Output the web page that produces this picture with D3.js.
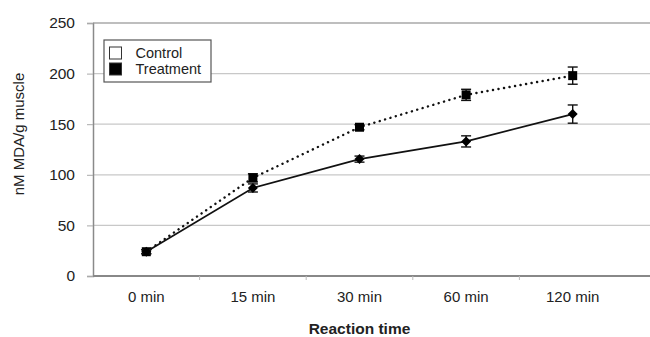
<!DOCTYPE html>
<html>
<head>
<meta charset="utf-8">
<script src="https://cdn.jsdelivr.net/npm/d3@7"></script>
<style>
  body { margin: 0; background: #fff; }
  svg { display: block; font-family: "Liberation Sans", Arial, sans-serif; }
</style>
</head>
<body>
<svg id="chart" width="650" height="337"></svg>
<script>
const categories = ['0 min', '15 min', '30 min', '60 min', '120 min'];
const controlValues = [24, 87, 115.5, 133, 160];
const controlErrors = [2, 4, 3, 5.5, 9];
const treatmentValues = [24, 97, 147, 179, 198];
const treatmentErrors = [2, 4, 2.5, 5.5, 8.5];
const yTicks = [0, 50, 100, 150, 200, 250];

const svg = d3.select('#chart');
const plot = { left: 93, top: 23, right: 650, bottom: 276 };
const font = '"Liberation Sans", Arial, sans-serif';

const x = d3.scaleBand()
    .domain(categories)
    .range([plot.left, 626]);

const y = d3.scaleLinear()
    .domain([0, 250])
    .range([plot.bottom, plot.top]);

// grid lines
svg.append('g')
    .selectAll('line')
    .data(yTicks.filter(d => d > 0))
    .join('line')
    .attr('x1', plot.left)
    .attr('x2', plot.right)
    .attr('y1', d => y(d))
    .attr('y2', d => y(d))
    .attr('stroke', '#c8c8c8')
    .attr('stroke-width', 1.2);

// y axis
const yAxis = svg.append('g')
    .attr('transform', `translate(${plot.left},0)`)
    .call(d3.axisLeft(y).tickValues(yTicks).tickSize(6).tickPadding(12));
yAxis.select('.domain').attr('stroke', '#8a8a8a').attr('stroke-width', 1.5);
yAxis.selectAll('.tick line').attr('stroke', '#aaa');
yAxis.selectAll('.tick text')
    .attr('font-size', 15.5)
    .attr('fill', '#222')
    .attr('font-family', font);

// x axis
const xAxis = svg.append('g')
    .attr('transform', `translate(0,${plot.bottom})`)
    .call(d3.axisBottom(x).tickSize(0).tickPadding(15));
xAxis.select('.domain').remove();
xAxis.selectAll('.tick text')
    .attr('font-size', 15)
    .attr('fill', '#222')
    .attr('font-family', font);

svg.append('line')
    .attr('x1', plot.left).attr('x2', plot.right)
    .attr('y1', plot.bottom).attr('y2', plot.bottom)
    .attr('stroke', '#888').attr('stroke-width', 2);

svg.append('g')
    .selectAll('line')
    .data(categories.slice(1))
    .join('line')
    .attr('x1', d => x(d)).attr('x2', d => x(d))
    .attr('y1', plot.bottom).attr('y2', plot.bottom + 4)
    .attr('stroke', '#bbb');

// axis titles
svg.append('text')
    .attr('transform', 'translate(24,134) rotate(-90)')
    .attr('text-anchor', 'middle')
    .attr('font-size', 15)
    .attr('fill', '#222')
    .text('nM MDA/g muscle');

svg.append('text')
    .attr('x', x('30 min') + x.bandwidth() / 2)
    .attr('y', 334)
    .attr('text-anchor', 'middle')
    .attr('font-size', 15.5)
    .attr('font-weight', 'bold')
    .attr('fill', '#222')
    .text('Reaction time');

const cx = d => x(d) + x.bandwidth() / 2;

function drawSeries(values, errors, dash, diamond, size) {
    const data = categories.map((c, i) => ({ c, v: values[i], e: errors[i] }));
    const line = d3.line().x(d => cx(d.c)).y(d => y(d.v));
    svg.append('path')
        .datum(data)
        .attr('d', line)
        .attr('fill', 'none')
        .attr('stroke', '#111')
        .attr('stroke-width', dash ? 2.4 : 1.7)
        .attr('stroke-dasharray', dash)
        .attr('stroke-linecap', dash ? 'round' : 'butt');

    const eb = svg.append('g').selectAll('g').data(data).join('g')
        .attr('stroke', '#111').attr('stroke-width', 1.4);
    eb.append('line')
        .attr('x1', d => cx(d.c)).attr('x2', d => cx(d.c))
        .attr('y1', d => y(d.v - d.e)).attr('y2', d => y(d.v + d.e));
    eb.append('line')
        .attr('x1', d => cx(d.c) - 5).attr('x2', d => cx(d.c) + 5)
        .attr('y1', d => y(d.v - d.e)).attr('y2', d => y(d.v - d.e));
    eb.append('line')
        .attr('x1', d => cx(d.c) - 5).attr('x2', d => cx(d.c) + 5)
        .attr('y1', d => y(d.v + d.e)).attr('y2', d => y(d.v + d.e));

    svg.append('g').selectAll('path').data(data).join('path')
        .attr('d', d3.symbol().type(d3.symbolSquare).size(size))
        .attr('transform', d => `translate(${cx(d.c)},${y(d.v)})${diamond ? ' rotate(45)' : ''}`)
        .attr('fill', '#000');
}

drawSeries(treatmentValues, treatmentErrors, '0.1,5.5', false, 81);
drawSeries(controlValues, controlErrors, null, true, 50);

// plot frame top
svg.append('line')
    .attr('x1', plot.left).attr('x2', plot.right)
    .attr('y1', plot.top).attr('y2', plot.top)
    .attr('stroke', '#999').attr('stroke-width', 1.2);

// legend
const legend = svg.append('g').attr('transform', 'translate(104,40)');
legend.append('rect')
    .attr('width', 107).attr('height', 42)
    .attr('fill', '#fff').attr('stroke', '#555').attr('stroke-width', 1.2);
const legendItems = [
    { label: 'Control', fill: '#fff' },
    { label: 'Treatment', fill: '#000' }
];
const li = legend.selectAll('g.item').data(legendItems).join('g')
    .attr('class', 'item')
    .attr('transform', (d, i) => `translate(5.5,${7 + i * 16})`);
li.append('rect')
    .attr('width', 12).attr('height', 12)
    .attr('fill', d => d.fill).attr('stroke', '#333').attr('stroke-width', 1);
li.append('text')
    .attr('x', 26).attr('y', 11)
    .attr('font-size', 14.5)
    .attr('fill', '#222')
    .text(d => d.label);
</script>
</body>
</html>
